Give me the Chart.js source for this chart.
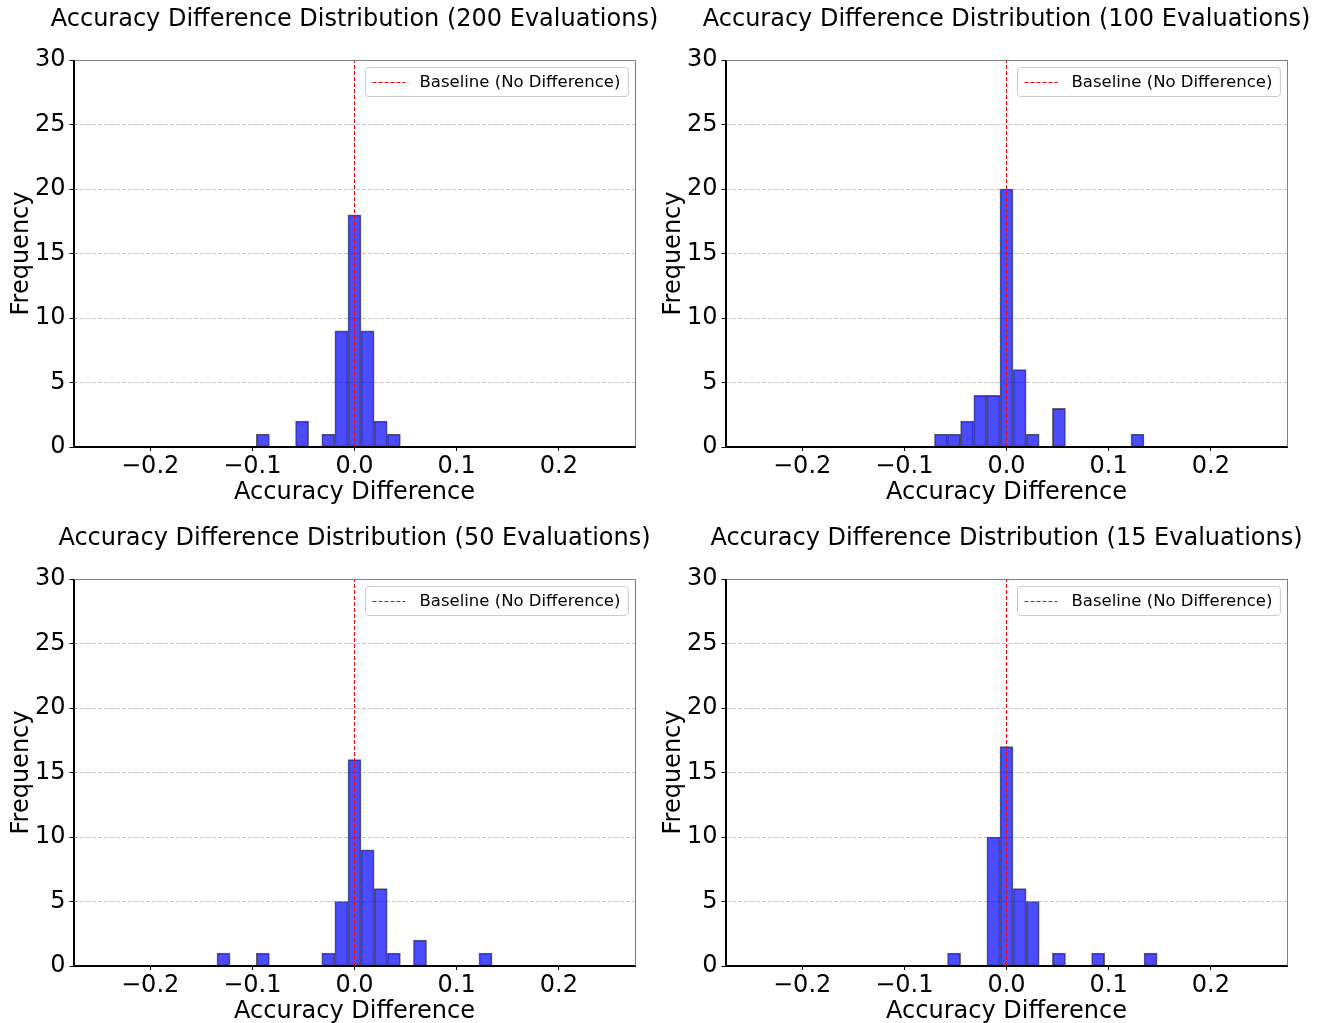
<!DOCTYPE html>
<html>
<head>
<meta charset="utf-8">
<title>Accuracy Difference Distribution</title>
<script src="https://cdn.jsdelivr.net/npm/chart.js@4.4.1/dist/chart.umd.min.js"></script>
<style>
  html, body { margin: 0; padding: 0; background: #fff; overflow: hidden; }
  #figure { position: relative; width: 1322px; height: 1023px; overflow: hidden; }
  .panel { position: absolute; }
</style>
</head>
<body>
<div id="figure">
  <canvas id="chart200" class="panel" width="709" height="510" style="left:0px;top:0px"></canvas>
  <canvas id="chart100" class="panel" width="709" height="510" style="left:652px;top:0px"></canvas>
  <canvas id="chart50" class="panel" width="709" height="510" style="left:0px;top:519px"></canvas>
  <canvas id="chart15" class="panel" width="709" height="510" style="left:652px;top:519px"></canvas>
</div>
<script>
// histogram bin centres (39 bins between -0.25 and 0.25)
var binCenters = [
  -0.2436, -0.2308, -0.2179, -0.2051, -0.1923, -0.1795, -0.1667, -0.1538, -0.1410, -0.1282,
  -0.1154, -0.1026, -0.0897, -0.0769, -0.0641, -0.0513, -0.0385, -0.0256, -0.0128, 0.0,
  0.0128, 0.0256, 0.0385, 0.0513, 0.0641, 0.0769, 0.0897, 0.1026, 0.1154, 0.1282,
  0.1410, 0.1538, 0.1667, 0.1795, 0.1923, 0.2051, 0.2179, 0.2308, 0.2436
];

// counts per bin for each run
var counts200 = [0,0,0,0,0,0,0,0,0,0, 0,0,1,0,0,2,0,1,9,18, 9,2,1,0,0,0,0,0,0,0, 0,0,0,0,0,0,0,0,0];
var counts100 = [0,0,0,0,0,0,0,0,0,0, 0,0,0,0,1,1,2,4,4,20, 6,1,0,3,0,0,0,0,0,1, 0,0,0,0,0,0,0,0,0];
var counts50  = [0,0,0,0,0,0,0,0,0,1, 0,0,1,0,0,0,0,1,5,16, 9,6,1,0,2,0,0,0,0,1, 0,0,0,0,0,0,0,0,0];
var counts15  = [0,0,0,0,0,0,0,0,0,0, 0,0,0,0,0,1,0,0,10,17, 6,5,0,1,0,0,1,0,0,0, 1,0,0,0,0,0,0,0,0];

var xTickValues = [-0.2, -0.1, 0.0, 0.1, 0.2];
var yTickValues = [0, 5, 10, 15, 20, 25, 30];
var baselineX = 0;
var baselineLabel = "Baseline (No Difference)";

var FONT = "'DejaVu Sans', sans-serif";
Chart.defaults.color = "#000";
Chart.defaults.font.family = FONT;

// spines + legend box drawn on top of everything
var framePlugin = {
  id: 'frame',
  afterDraw: function(chart) {
    var ctx = chart.ctx;
    var a = chart.chartArea;
    var l = Math.round(a.left) + 0.5, r = Math.round(a.right) - 0.5;
    var t = Math.round(a.top) + 0.5, b = Math.round(a.bottom) - 0.5;
    ctx.save();
    ctx.lineWidth = 1;
    ctx.strokeStyle = "#7f7f7f";
    ctx.beginPath();
    ctx.moveTo(l, t); ctx.lineTo(r, t); ctx.lineTo(r, b);
    ctx.stroke();
    ctx.strokeStyle = "#000";
    ctx.beginPath();
    ctx.moveTo(l, t); ctx.lineTo(l, b); ctx.lineTo(r, b);
    ctx.stroke();

    // legend
    ctx.font = "16.5px " + FONT;
    var tw = ctx.measureText(baselineLabel).width;
    var w = tw + 62, h = 29;
    var x0 = Math.round(a.right - 8 - w) + 0.5, y0 = Math.round(a.top + 7) + 0.5;
    ctx.beginPath();
    ctx.roundRect(x0, y0, w, h, 3);
    ctx.fillStyle = "rgba(255,255,255,0.8)";
    ctx.fill();
    ctx.strokeStyle = "#cccccc";
    ctx.stroke();
    var ly = Math.round(y0 + h / 2) + 0.5;
    ctx.strokeStyle = "#ff0000";
    ctx.setLineDash([4, 2]);
    ctx.beginPath();
    ctx.moveTo(x0 + 7, ly); ctx.lineTo(x0 + 40, ly);
    ctx.stroke();
    ctx.setLineDash([]);
    ctx.fillStyle = "#000";
    ctx.textBaseline = "middle";
    ctx.textAlign = "left";
    ctx.fillText(baselineLabel, x0 + 54, ly);
    ctx.restore();
  }
};

function formatTick(v) {
  var s = Math.abs(v).toFixed(1);
  return v < -1e-9 ? "\u2212" + s : s;
}

function setupHistogram(canvasId, title, counts) {
  var el = document.getElementById(canvasId).getContext('2d');
  var barData = [];
  for (var i = 0; i < binCenters.length; i++) {
    if (counts[i] > 0) barData.push({x: binCenters[i], y: counts[i]});
  }

  new Chart(el, {
    type: 'bar',
    data: {
      datasets: [{
        type: 'line',
        label: baselineLabel,
        data: [{x: baselineX, y: yTickValues[0]}, {x: baselineX, y: yTickValues[yTickValues.length - 1]}],
        borderColor: "#ff0000",
        borderWidth: 1,
        borderDash: [4, 2],
        pointRadius: 0,
        order: 0
      }, {
        label: 'Frequency',
        data: barData,
        backgroundColor: "rgba(0,0,255,0.7)",
        borderColor: "rgba(0,0,0,0.6)",
        borderWidth: 1,
        borderSkipped: false,
        barPercentage: 1.0,
        categoryPercentage: 1.0,
        order: 1
      }]
    },
    options: {
      responsive: false,
      animation: false,
      events: [],
      layout: { padding: 0 },
      plugins: {
        legend: { display: false },
        tooltip: { enabled: false },
        title: {
          display: true,
          text: title,
          color: "#000",
          font: { size: 24, weight: 'normal', family: FONT },
          padding: { top: 5.5, bottom: 25.7 }
        }
      },
      scales: {
        x: {
          type: 'linear',
          min: -0.275,
          max: 0.275,
          offset: false,
          afterBuildTicks: function(scale) {
            scale.ticks = xTickValues.map(function(v) { return {value: v}; });
          },
          afterFit: function(scale) { scale.height = 63; },
          ticks: {
            font: { size: 24 },
            padding: 1,
            maxRotation: 0,
            autoSkip: false,
            callback: function(v) { return formatTick(v); }
          },
          grid: {
            offset: false,
            drawOnChartArea: false,
            drawTicks: true,
            tickLength: 4,
            tickColor: "#000"
          },
          border: { display: true, color: "#000", width: 1 },
          title: {
            display: true,
            text: "Accuracy Difference",
            font: { size: 24 },
            padding: { top: 0, bottom: 2.6 }
          }
        },
        y: {
          min: 0,
          max: 30,
          afterBuildTicks: function(scale) {
            scale.ticks = yTickValues.map(function(v) { return {value: v}; });
          },
          afterFit: function(scale) { scale.width = 73.5; },
          ticks: {
            font: { size: 24 },
            padding: 4
          },
          grid: {
            color: "rgba(176,176,176,0.7)",
            lineWidth: 1,
            drawTicks: true,
            tickLength: 4,
            tickColor: "#000",
            tickBorderDash: []
          },
          border: { display: true, color: "#000", width: 1, dash: [4, 2] },
          title: {
            display: true,
            text: "Frequency",
            font: { size: 24 },
            padding: { top: 7, bottom: 0 }
          }
        },
        // empty right-hand axis that only reserves the margin right of the plot
        yRight: {
          type: 'linear',
          position: 'right',
          display: true,
          ticks: { display: false },
          grid: { display: false },
          border: { display: false },
          afterFit: function(scale) { scale.width = 73.5; }
        }
      }
    },
    plugins: [framePlugin]
  });
}

setupHistogram("chart200", "Accuracy Difference Distribution (200 Evaluations)", counts200);
setupHistogram("chart100", "Accuracy Difference Distribution (100 Evaluations)", counts100);
setupHistogram("chart50", "Accuracy Difference Distribution (50 Evaluations)", counts50);
setupHistogram("chart15", "Accuracy Difference Distribution (15 Evaluations)", counts15);
</script>
</body>
</html>
